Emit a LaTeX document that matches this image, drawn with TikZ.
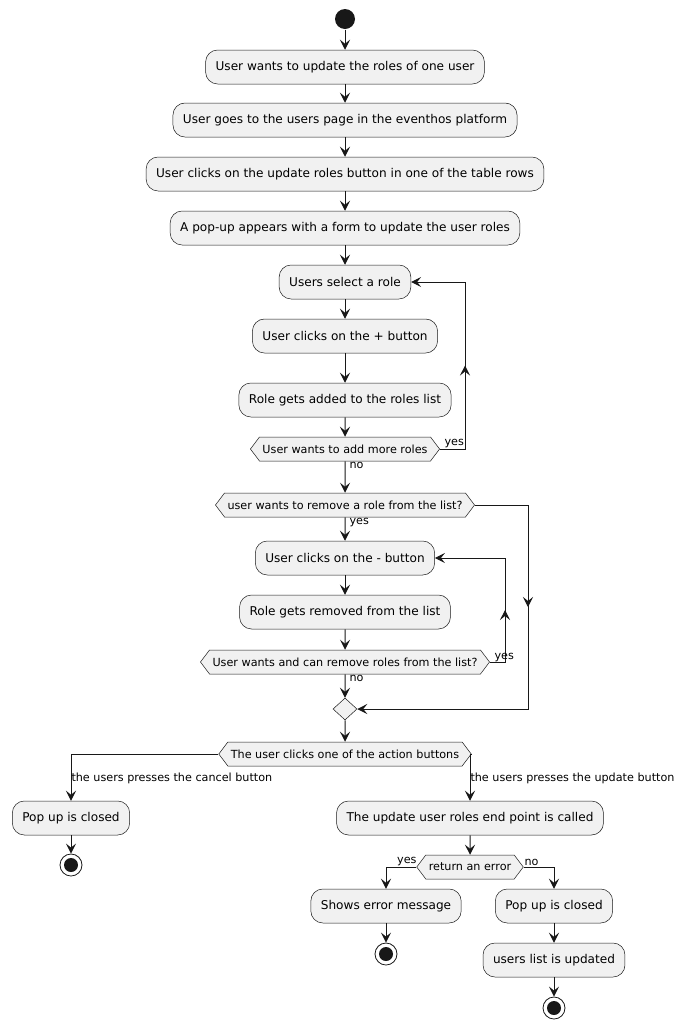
\documentclass[tikz,border=0pt]{standalone}
\usepackage{fontspec}
\setmainfont{DejaVu Sans}
\usepackage{tikz}
\usetikzlibrary{calc, arrows.meta, shapes.geometric, shapes.symbols}

\definecolor{lc}{HTML}{181818}
\definecolor{bg}{HTML}{F1F1F1}

\tikzset{
  act/.style={draw=lc, line width=0.5pt, fill=bg, rounded corners=12pt,
    minimum height=34pt, inner xsep=10pt, font=\fontsize{12.1}{14}\selectfont},
  hexa/.style={draw=lc, line width=0.5pt, fill=bg, shape=signal,
    signal to=east and west, signal pointer angle=106, minimum height=24pt,
    inner xsep=3pt, inner ysep=0pt, font=\fontsize{11.2}{13}\selectfont},
  merge/.style={draw=lc, line width=0.5pt, fill=bg, diamond, inner sep=0pt,
    minimum width=24pt, minimum height=22pt},
  startnode/.style={circle, fill=lc, minimum size=20pt, inner sep=0pt},
  endnode/.style={circle, draw=lc, line width=0.8pt, fill=white, minimum size=22pt,
    inner sep=0pt, path picture={\fill[lc] (path picture bounding box.center) circle (7pt);}},
  lbl/.style={inner sep=0pt, font=\fontsize{11.2}{13}\selectfont},
}

\begin{document}
\begin{tikzpicture}[x=1pt, y=-1pt, line width=1pt, draw=lc,
    >={Stealth[length=10pt, width=10pt, inset=4pt]}]
    \useasboundingbox (0,0) rectangle (691,1029);
    \node[startnode] (s) at (345,19) {};
    \node[act] (b1) at (345,67) {User wants to update the roles of one user};
    \node[act] (b2) at (345,120) {User goes to the users page in the eventhos platform};
    \node[act] (b3) at (345,174) {User clicks on the update roles button in one of the table rows};
    \node[act] (b4) at (345,228) {A pop-up appears with a form to update the user roles};
    \node[act] (b5) at (345,282) {Users select a role};
    \node[act] (b6) at (345,336) {User clicks on the + button};
    \node[act] (b7) at (345,400) {Role gets added to the roles list};
    \node[hexa] (d1) at (345,449) {User wants to add more roles};
    \node[hexa] (d2) at (345,505) {user wants to remove a role from the list?};
    \node[act] (b8) at (345,558) {User clicks on the - button};
    \node[act] (b9) at (345,612) {Role gets removed from the list};
    \node[hexa] (d3) at (345,662) {User wants and can remove roles from the list?};
    \node[merge] (m1) at (345,709) {};
    \node[hexa] (d4) at (345,754) {The user clicks one of the action buttons};
    \node[act] (b10) at (71,818) {Pop up is closed};
    \node[endnode] (e1) at (71,865) {};
    \node[act] (b11) at (470,818) {The update user roles end point is called};
    \node[hexa] (d5) at (470,867) {return an error};
    \node[act] (b12) at (386,906) {Shows error message};
    \node[endnode] (e2) at (386,954) {};
    \node[act] (b13) at (554,906) {Pop up is closed};
    \node[act] (b14) at (554,960) {users list is updated};
    \node[endnode] (e3) at (554,1008) {};
    % corners of the loops
    \coordinate (r1) at (465,449);
    \coordinate (r2) at (465,282);
    \coordinate (r3) at (528,505);
    \coordinate (r4) at (528,709);
    \coordinate (r5) at (505,662);
    \coordinate (r6) at (505,558);
    % main line
    \draw[->] (s) -- (b1);
    \draw[->] (b1) -- (b2);
    \draw[->] (b2) -- (b3);
    \draw[->] (b3) -- (b4);
    \draw[->] (b4) -- (b5);
    \draw[->] (b5) -- (b6);
    \draw[->] (b6) -- (b7);
    \draw[->] (b7) -- (d1);
    \draw[->] (d1) -- (d2);
    \draw[->] (d2) -- (b8);
    \draw[->] (b8) -- (b9);
    \draw[->] (b9) -- (d3);
    \draw[->] (d3) -- (m1);
    \draw[->] (m1) -- (d4);
    % loops back up
    \draw[->] (d1.east) -- (r1) -- (r2) -- (b5.east);
    \draw[->] (r1) -- ($(r1)!0.5!(r2)$);
    \draw[->] (d3.east) -- (r5) -- (r6) -- (b8.east);
    \draw[->] (r5) -- ($(r5)!0.5!(r6)$);
    % skip to the merge
    \draw[->] (d2.east) -- (r3) -- (r4) -- (m1.east);
    \draw[->] (r3) -- ($(r3)!0.5!(r4)$);
    % action buttons
    \draw[->] (d4.west) -| (b10.north);
    \draw[->] (d4.east) -| (b11.north);
    \draw[->] (b10) -- (e1);
    \draw[->] (b11) -- (d5);
    \draw[->] (d5.west) -| (b12.north);
    \draw[->] (d5.east) -| (b13.north);
    \draw[->] (b12) -- (e2);
    \draw[->] (b13) -- (b14);
    \draw[->] (b14) -- (e3);
    % labels
    \node[lbl, anchor=south west] (l1) at (444,448) {yes};
    \node[lbl, anchor=north west] (l2) at (349,462) {no};
    \node[lbl, anchor=north west] (l3) at (349,518) {yes};
    \node[lbl, anchor=south west] (l4) at (494,662) {yes};
    \node[lbl, anchor=north west] (l5) at (349,675) {no};
    \node[lbl, anchor=west] (l6) at (71,778) {the users presses the cancel button};
    \node[lbl, anchor=west] (l7) at (470,778) {the users presses the update button};
    \node[lbl, anchor=south east] (l8) at (417,866) {yes};
    \node[lbl, anchor=south west] (l9) at (524,866) {no};
\end{tikzpicture}
\end{document}
